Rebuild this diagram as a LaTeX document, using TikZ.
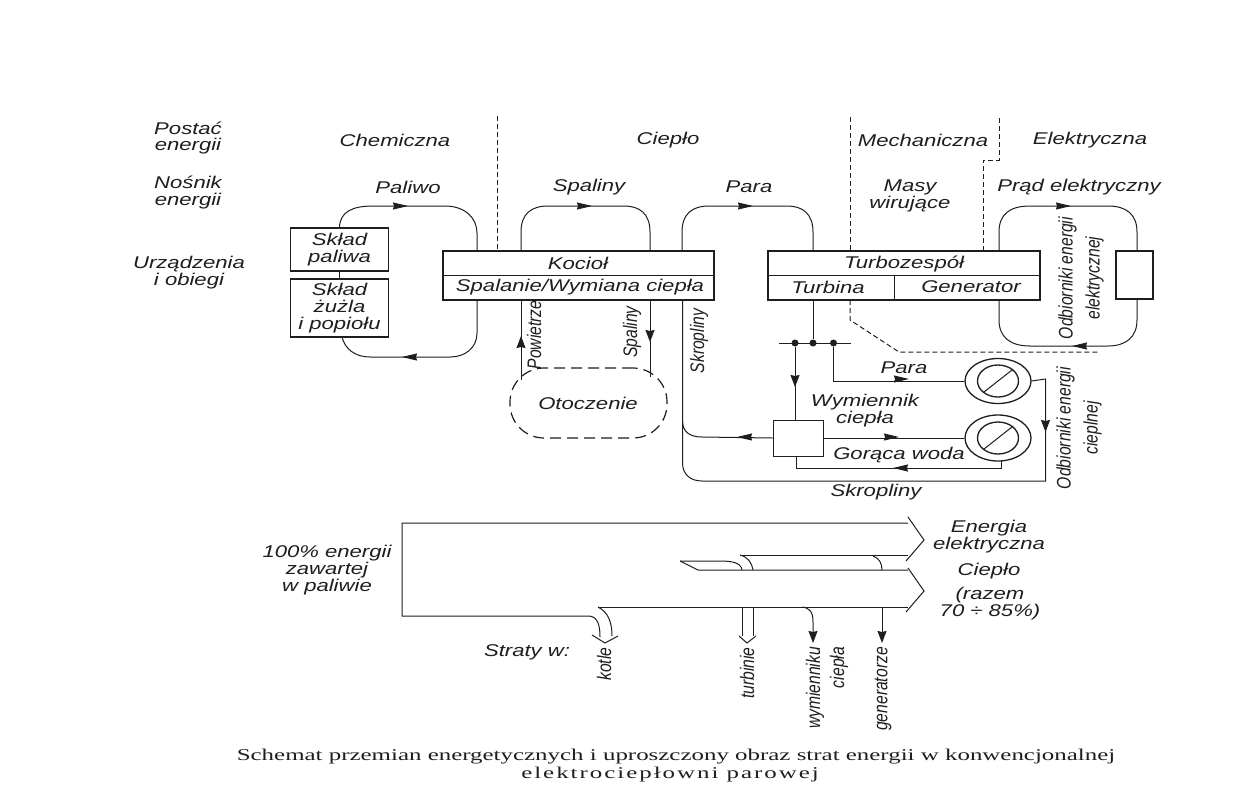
\documentclass[tikz,border=0pt]{standalone}
\usepackage{fontspec}
\usetikzlibrary{arrows.meta,shapes.geometric,calc}
\newfontfamily\labf[FakeStretch=1.3]{Liberation Sans}
\newfontfamily\rotf[FakeStretch=0.8]{Liberation Sans}
\newfontfamily\capf[FakeStretch=1.51]{Liberation Serif}
\newfontfamily\capg[FakeStretch=1.51,LetterSpace=12]{Liberation Serif}
\definecolor{ink}{HTML}{1E1E1E}
\tikzset{
  lab/.style={font=\labf\itshape\fontsize{17}{17}\selectfont,align=center,text=ink,inner sep=0pt},
  rlab/.style={font=\rotf\itshape\fontsize{19.6}{27}\selectfont,align=center,text=ink,inner sep=0pt,rotate=90},
  captxt/.style={font=\capf\fontsize{16.5}{18}\selectfont,text=ink,inner sep=0pt},
  wire/.style={draw=ink,line width=1pt},
  sepline/.style={draw=ink,line width=1pt,dash pattern=on 5pt off 3pt},
  boxa/.style={draw=ink,line width=1.3pt,inner sep=0pt,rectangle},
  tipa/.style={draw=ink,line width=1pt,-{Stealth[length=15pt,width=7pt,inset=1pt]}},
  vtip/.style={draw=ink,line width=1pt,-{Stealth[length=12pt,width=9pt,inset=1pt]}},
  oval/.style={draw=ink,line width=1.3pt,ellipse,inner sep=0pt},
  jdot/.style={fill=ink,circle,inner sep=0pt,minimum size=7pt},
}
\begin{document}
\begin{tikzpicture}[x=1pt,y=-1pt]
\useasboundingbox (0,0) rectangle (1238,809);
\fill[white] (0,0) rectangle (1238,809);
% row headers
\node[lab] (h1) at (188,138) {Postać\\energii};
\node[lab] (h2) at (188,192) {Nośnik\\energii};
\node[lab] (h3) at (189,273) {Urządzenia\\i obiegi};
\node[lab] (f1) at (395,140) {Chemiczna};
\node[lab] (f2) at (668,140) {Ciepło};
\node[lab] (f3) at (923,140) {Mechaniczna};
\node[lab] (f4) at (1090,140) {Elektryczna};
\node[lab] (c1) at (408,187) {Paliwo};
\node[lab] (c2) at (589,187) {Spaliny};
\node[lab] (c3) at (749,187) {Para};
\node[lab] (c4) at (910,196) {Masy\\wirujące};
\node[lab] (c5) at (1079,187) {Prąd elektryczny};
% boxes
\node[boxa,lab,minimum width=98pt,minimum height=43pt] (sp) at (339.5,249.5) {Skład\\paliwa};
\node[boxa,lab,minimum width=98pt,minimum height=58pt] (sz) at (339.5,308) {Skład\\żużla\\i popiołu};
\node[boxa,minimum width=271pt,minimum height=49pt] (ko) at (578.5,275.5) {};
\draw[wire] (ko.west) -- (ko.east);
\node[lab] (kot) at (578,263) {Kocioł};
\node[lab] (kos) at (580,287) {Spalanie/Wymiana ciepła};
\node[boxa,minimum width=272pt,minimum height=49pt] (tz) at (904,275.5) {};
\draw[wire] (tz.west) -- (tz.east);
\draw[wire] (894,275.5) -- (894,300);
\node[lab] (tzt) at (904,264) {Turbozespół};
\node[lab] (tzu) at (828,287) {Turbina};
\node[lab] (tzg) at (971,287) {Generator};
\node[boxa,minimum width=37pt,minimum height=48pt] (od) at (1134.5,275) {};
\node[boxa,line width=1pt,minimum width=50pt,minimum height=36pt] (wy) at (798,438) {};
\node[oval,minimum width=66pt,minimum height=45pt] (o1) at (998,381) {};
\node[oval,minimum width=41pt,minimum height=32pt] (o1i) at (998,381) {};
\node[oval,minimum width=66pt,minimum height=46pt] (o2) at (998,438) {};
\node[oval,minimum width=41pt,minimum height=32pt] (o2i) at (998,438) {};
\draw[wire] (o1i.south west) -- (o1i.north east);
\draw[wire] (o2i.south west) -- (o2i.north east);
\node[draw=ink,line width=1.2pt,dash pattern=on 11pt off 6pt,rounded corners=34pt,minimum width=157pt,minimum height=70pt,inner sep=0pt] (ot) at (588.5,403) {};
\node[lab] (ott) at (588,403) {Otoczenie};
% fuel loop
\draw[wire] (sp.south) -- (sz.north);
\draw[wire] (sp.north) .. controls (340,212) and (352,206) .. (373,206) -- (445,206) .. controls (465,206) and (477,218) .. (477,233) -- (477,251);
\draw[wire] (477,300) -- (477,333) .. controls (477,348) and (465,357) .. (450,357) -- (370,357) .. controls (355,357) and (345,349) .. (342,337);
\draw[tipa] (395,206) -- (408,206);
\draw[tipa] (415,357) -- (402,357);
% flue gas loop
\draw[wire] (521,251) -- (521,232) .. controls (521,214) and (531,206) .. (548,206) -- (624,206) .. controls (640,206) and (650,214) .. (650,232) -- (650,251);
\draw[tipa] (579,206) -- (592,206);
\draw[wire] (521,380) -- (521,300);
\draw[vtip] (521,347) -- (521,336);
\draw[wire] (650,300) -- (650,377);
\draw[vtip] (650,331) -- (650,342);
\node[rlab] (l1) at (534,335) {Powietrze};
\node[rlab] (l2) at (632,332) {Spaliny};
\node[rlab] (l3) at (699,341) {Skropliny};
% steam loop
\draw[wire] (682,251) -- (682,232) .. controls (682,214) and (692,206) .. (709,206) -- (787,206) .. controls (803,206) and (813,214) .. (813,232) -- (813,251);
\draw[tipa] (740,206) -- (753,206);
% electric loop
\draw[wire] (999,251) -- (999,232) .. controls (999,214) and (1010,206) .. (1030,206) -- (1108,206) .. controls (1126,206) and (1137,214) .. (1137,232) -- (1137,251);
\draw[wire] (1137,299) -- (1137,320) .. controls (1137,337) and (1126,346) .. (1108,346) -- (1030,346) .. controls (1010,346) and (999,337) .. (999,320) -- (999,300);
\draw[tipa] (1058,206) -- (1071,206);
\draw[tipa] (1085,346) -- (1072,346);
\node[rlab] (l4) at (1081,278) {Odbiorniki energii\\elektrycznej};
% dashed separators
\draw[sepline] (497,116) -- (497,251);
\draw[sepline] (850,117) -- (850,251);
\draw[sepline] (850,300) -- (850,320) -- (899,352) -- (1100,352);
\draw[sepline] (999,118) -- (999,160) -- (983,160) -- (983,251);
% steam bus
\coordinate (bl) at (779,343);
\coordinate (br) at (851,343);
\node[jdot] (d1) at (795,343) {};
\node[jdot] (d2) at (813,343) {};
\node[jdot] (d3) at (833.5,343) {};
\draw[wire] (bl) -- (br);
\draw[wire] (d2) -- (813,300);
\draw[wire] (d1) -- (d1 |- wy.north);
\draw[vtip] (795,376) -- (795,387);
\draw[wire] (d3) |- (o1.west);
\draw[tipa] (896,379) -- (909,379);
\node[lab] (p2) at (904,368) {Para};
\node[lab] (w1) at (865,410.5) {Wymiennik\\ciepła};
\draw[wire] (wy.east) -- (o2.west);
\draw[tipa] (886,437) -- (899,437);
\node[lab] (gw) at (899,455) {Gorąca woda};
\draw[wire] (1001,461) -- (1001,468) -- (796,468) -- (796,456);
\draw[tipa] (906,468) -- (893,468);
\draw[wire] (wy.west) -- (702,437) .. controls (690,437) and (682.5,432) .. (682.5,421);
\draw[tipa] (750,437) -- (737,437);
\draw[wire] (682.5,299) -- (682.5,463) .. controls (682.5,474) and (690,481) .. (702,481) -- (1045.5,481) -- (1045.5,379) -- (o1.east);
\draw[vtip] (1045.5,421) -- (1045.5,432);
\node[lab] (sk) at (876,492) {Skropliny};
\node[rlab] (l5) at (1079,428) {Odbiorniki energii\\cieplnej};
% energy flow (lower part)
\coordinate (al) at (402,523);
\draw[wire] (908,517) -- (924,540) -- (906,561);
\draw[wire] (908,568) -- (924,591) -- (906,612);
\draw[wire] (908,523) -- (al) -- (402,616) -- (588,616) .. controls (596,616) and (600,622) .. (600,637);
\draw[wire] (592,635) -- (605,643) -- (618,636);
\draw[wire] (612,636) .. controls (612,622) and (608,612) .. (598,607);
\draw[wire] (598,607) -- (908,607);
\draw[wire] (680,561) -- (698,570) -- (908,570);
\draw[wire] (680,561) -- (720,561) .. controls (733,561) and (741,563) .. (742,570);
\draw[wire] (740,555) -- (908,555);
\draw[wire] (740,555) .. controls (748,557) and (752,563) .. (753,570);
\draw[wire] (873,556) .. controls (879,558) and (882,563) .. (882,570);
\draw[wire] (742,607) -- (742,636);
\draw[wire] (753,607) -- (753,636);
\draw[wire] (739,636) -- (747,643) -- (756,636);
\draw[wire] (802,607) .. controls (810,608) and (813,612) .. (813,622) -- (813,632);
\draw[vtip] (813,632) -- (813,643);
\draw[wire] (882,607) -- (882,632);
\draw[vtip] (882,632) -- (882,643);
\node[lab] (e1) at (989,537) {Energia\\elektryczna};
\node[lab] (e2) at (989,571) {Ciepło};
\node[lab] (e3) at (990,603.5) {(razem\\70 ÷ 85\%)};
\node[lab] (st) at (327,570) {100\% energii\\zawartej\\w paliwie};
\node[lab] (sw) at (527,652) {Straty w:};
\node[rlab] (s1) at (604,664) {kotle};
\node[rlab] (s2) at (747,673) {turbinie};
\node[rlab,align=right,font=\rotf\itshape\fontsize{19.6}{24}\selectfont] (s3) at (827,688) {wymienniku\\ciepła};
\node[rlab] (s4) at (883,689) {generatorze};
% caption
\node[captxt] (t1) at (676,757) {Schemat przemian energetycznych i uproszczony obraz strat energii w konwencjonalnej};
\node[captxt,font=\capg\fontsize{16.5}{18}\selectfont] (t2) at (670,775) {elektrociepłowni parowej};
\end{tikzpicture}
\end{document}
